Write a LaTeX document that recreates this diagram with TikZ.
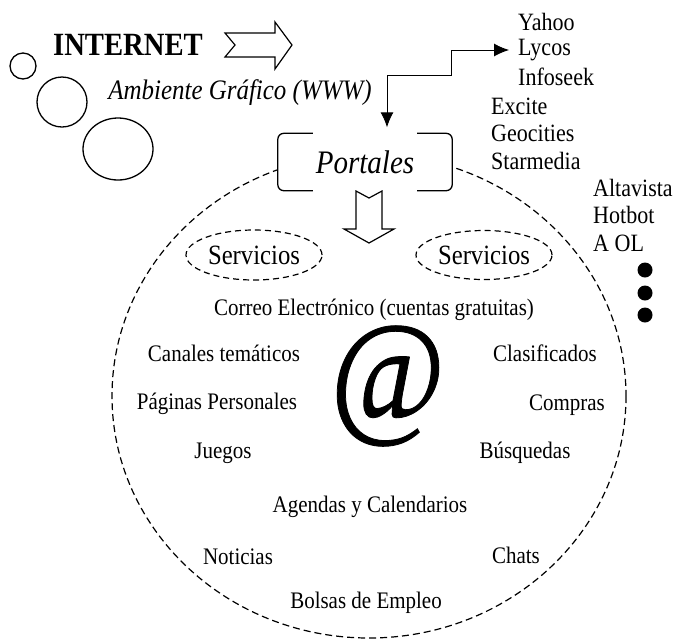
\documentclass[tikz,border=0pt]{standalone}
\usepackage{fontspec}
\setmainfont{Liberation Serif}
\newfontfamily\atfont[FakeBold=0.6]{Liberation Serif}
\usetikzlibrary{arrows.meta,shapes.geometric}
\newcommand{\nx}[1]{\scalebox{0.885}[1]{#1}}
\begin{document}
\begin{tikzpicture}[x=1pt,y=-1pt,
  body/.style={font=\fontsize{23.7}{28}\selectfont, inner sep=0pt},
  listtxt/.style={font=\fontsize{24.9}{29}\selectfont, inner sep=0pt, anchor=west},
  servtxt/.style={font=\fontsize{27.9}{32}\selectfont, inner sep=0pt},
  bubble/.style={draw, line width=1.3pt},
  bigring/.style={draw, line width=1.2pt, dash pattern=on 7pt off 4pt},
  servring/.style={draw, line width=1.2pt, dash pattern=on 6pt off 4pt},
  blockarrow/.style={draw, line width=1.2pt, fill=white, line join=miter},
  conn/.style={draw, line width=0.9pt, {Latex[length=15pt,width=13pt]}-{Latex[length=15pt,width=13pt]}},
  bracket/.style={draw, line width=1.3pt, rounded corners=6pt}
]
\useasboundingbox (0,0) rectangle (677,641);
% bubbles
\draw[bubble] (23,66) circle [radius=13];
\draw[bubble] (62,102) circle [radius=25];
\draw[bubble] (118,149) ellipse [x radius=35, y radius=31];
% titles
\node[font=\fontsize{32.4}{36}\selectfont\bfseries, inner sep=0pt] (internet) at (128,45) {\nx{INTERNET}};
\node[font=\fontsize{28.2}{32}\selectfont\itshape, inner sep=0pt] (ambiente) at (240,93) {\nx{Ambiente Gráfico (WWW)}};
\draw[blockarrow] (225,33) -- (275,33) -- (275,22) -- (292,45) -- (275,69) -- (275,57) -- (225,57) -- (235,45) -- cycle;
% big dashed ellipse
\draw[bigring] (369,396) ellipse [x radius=257, y radius=242];
% portales
\node[fill=white, minimum width=174pt, minimum height=57pt, inner sep=0pt,
      font=\fontsize{32.8}{37}\selectfont\itshape] (portales) at (365,162) {\nx{Portales}};
\draw[bracket] ([xshift=35pt]portales.north west) -- (portales.north west) -- (portales.south west) -- ([xshift=35pt]portales.south west);
\draw[bracket] ([xshift=-35pt]portales.north east) -- (portales.north east) -- (portales.south east) -- ([xshift=-35pt]portales.south east);
\draw[blockarrow] (356,191) -- (369,198) -- (382,191) -- (382,229) -- (394,229) -- (369,243) -- (344,229) -- (356,229) -- cycle;
% list of portals
\node[listtxt] (yahoo) at (518,22) {\nx{Yahoo}};
\node[listtxt] (lycos) at (518,50) {\nx{Lycos}};
\node[listtxt] (infoseek) at (518,77) {\nx{Infoseek}};
\node[listtxt] (excite) at (491,106) {\nx{Excite}};
\node[listtxt] (geocities) at (491,133) {\nx{Geocities}};
\node[listtxt] (starmedia) at (491,161) {\nx{Starmedia}};
\node[listtxt] (altavista) at (593,188) {\nx{Altavista}};
\node[listtxt] (hotbot) at (593,215) {\nx{Hotbot}};
\node[listtxt] (aol) at (593,243) {\nx{A OL}};
\fill (645,270) circle [radius=7.5];
\fill (645,293) circle [radius=7.5];
\fill (645,315) circle [radius=7.5];
\path[conn] ([xshift=22pt,yshift=6pt]portales.north) |- (451,75) |- ([xshift=-9pt]lycos.west);
% servicios
\node[servring, ellipse, minimum width=136pt, minimum height=50pt, inner sep=0pt] (serv1) at (254,255) {};
\node[servtxt] at (serv1) {\nx{Servicios}};
\node[servring, ellipse, minimum width=136pt, minimum height=49pt, inner sep=0pt] (serv2) at (484,255) {};
\node[servtxt] at (serv2) {\nx{Servicios}};
% at sign
\node[font=\fontsize{47}{47}\atfont, inner sep=0pt] (at) at (388,386) {\scalebox{2.655}[3]{@}};
% services
\node[body] (correo) at (374,310) {\nx{Correo Electrónico (cuentas gratuitas)}};
\node[body] (canales) at (224,353) {\nx{Canales temáticos}};
\node[body] (paginas) at (217,404) {\nx{Páginas Personales}};
\node[body] (juegos) at (223,453) {\nx{Juegos}};
\node[body] (agendas) at (370,507) {\nx{Agendas y Calendarios}};
\node[body] (noticias) at (238,557) {\nx{Noticias}};
\node[body] (bolsas) at (366,603) {\nx{Bolsas de Empleo}};
\node[body] (clasif) at (545,353) {\nx{Clasificados}};
\node[body] (compras) at (567,405) {\nx{Compras}};
\node[body] (busq) at (525,453) {\nx{Búsquedas}};
\node[body] (chats) at (516,555) {\nx{Chats}};
\end{tikzpicture}
\end{document}
